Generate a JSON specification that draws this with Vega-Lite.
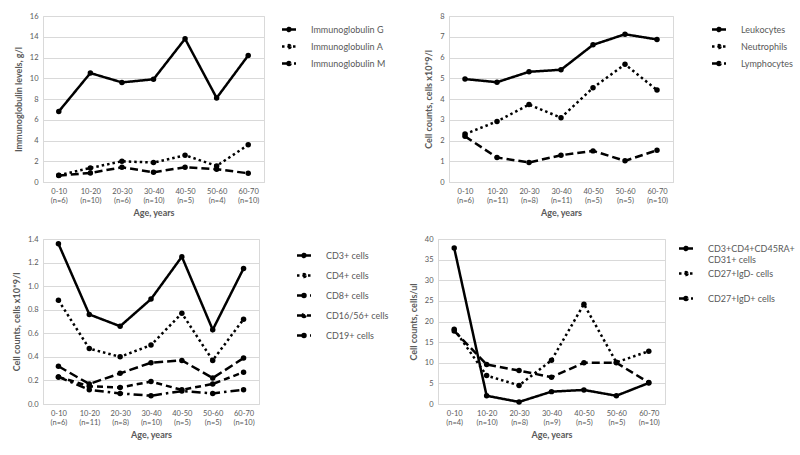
{
  "$schema": "https://vega.github.io/schema/vega-lite/v6.json",
  "background": "white",
  "padding": {"left": 12, "top": 11, "right": 0, "bottom": 0},
  "resolve": {"scale": {"strokeDash": "independent", "x": "independent", "y": "independent"}, "legend": {"strokeDash": "independent"}},
  "config": {
    "font": "Lato",
    "view": {"stroke": "#d9d9d9", "strokeWidth": 1},
    "axis": {
      "labelFont": "Lato", "labelFontSize": 7.5, "labelColor": "#595959",
      "titleFont": "Lato", "titleFontSize": 9, "titleFontWeight": "bold", "titleColor": "#595959",
      "gridColor": "#d9d9d9", "gridWidth": 1, "domainColor": "#d9d9d9", "ticks": false
    },
    "axisX": {"bandPosition": 0, "labelAngle": 0, "labelPadding": 5, "titlePadding": 4, "domain": true},
    "axisY": {"domain": false, "labelPadding": 5, "titlePadding": 6},
    "legend": {
      "labelFont": "Lato", "labelFontSize": 9, "labelColor": "#595959",
      "symbolType": "M-0.5,0L2.3,0M1.2,0A0.3,0.3 0 1,1 0.6,0A0.3,0.3 0 1,1 1.2,0Z",
      "symbolSize": 100, "symbolStrokeWidth": 2.5, "symbolStrokeColor": "black", "symbolFillColor": "black", "symbolOpacity": 1,
      "labelOffset": 20, "rowPadding": 4, "offset": 4, "padding": 10
    },
    "line": {"color": "black", "strokeWidth": 2.5},
    "point": {"color": "black", "filled": true, "size": 30, "opacity": 1}
  },
  "spacing": 16,
  "vconcat": [
    {
      "spacing": 30,
      "resolve": {"scale": {"strokeDash": "independent", "x": "independent", "y": "independent"}, "legend": {"strokeDash": "independent"}},
      "hconcat": [
        {
          "width": 221, "height": 166,
          "data": {"values": [
            {"age": "0-10 (n=6)", "series": "Immunoglobulin G", "value": 6.8},
            {"age": "10-20 (n=10)", "series": "Immunoglobulin G", "value": 10.5},
            {"age": "20-30 (n=6)", "series": "Immunoglobulin G", "value": 9.6},
            {"age": "30-40 (n=10)", "series": "Immunoglobulin G", "value": 9.9},
            {"age": "40-50 (n=5)", "series": "Immunoglobulin G", "value": 13.8},
            {"age": "50-60 (n=4)", "series": "Immunoglobulin G", "value": 8.1},
            {"age": "60-70 (n=10)", "series": "Immunoglobulin G", "value": 12.2},
            {"age": "0-10 (n=6)", "series": "Immunoglobulin A", "value": 0.65},
            {"age": "10-20 (n=10)", "series": "Immunoglobulin A", "value": 1.35},
            {"age": "20-30 (n=6)", "series": "Immunoglobulin A", "value": 2.0},
            {"age": "30-40 (n=10)", "series": "Immunoglobulin A", "value": 1.87},
            {"age": "40-50 (n=5)", "series": "Immunoglobulin A", "value": 2.58},
            {"age": "50-60 (n=4)", "series": "Immunoglobulin A", "value": 1.55},
            {"age": "60-70 (n=10)", "series": "Immunoglobulin A", "value": 3.58},
            {"age": "0-10 (n=6)", "series": "Immunoglobulin M", "value": 0.62},
            {"age": "10-20 (n=10)", "series": "Immunoglobulin M", "value": 0.87},
            {"age": "20-30 (n=6)", "series": "Immunoglobulin M", "value": 1.42},
            {"age": "30-40 (n=10)", "series": "Immunoglobulin M", "value": 0.94},
            {"age": "40-50 (n=5)", "series": "Immunoglobulin M", "value": 1.42},
            {"age": "50-60 (n=4)", "series": "Immunoglobulin M", "value": 1.23},
            {"age": "60-70 (n=10)", "series": "Immunoglobulin M", "value": 0.84}
          ]},
          "encoding": {
            "x": {"field": "age", "type": "nominal", "sort": null, "scale": {"paddingInner": 0, "paddingOuter": 0},
                  "axis": {"title": "Age, years", "labelExpr": "split(datum.label, ' ')"}},
            "y": {"field": "value", "type": "quantitative", "scale": {"domain": [0, 16], "nice": false},
                  "axis": {"title": "Immunoglobulin levels, g/l", "values": [0, 2, 4, 6, 8, 10, 12, 14, 16]}}
          },
          "layer": [
            {"mark": {"type": "line"},
             "encoding": {"strokeDash": {"field": "series", "type": "nominal", "sort": null,
               "scale": {"domain": ["Immunoglobulin G", "Immunoglobulin A", "Immunoglobulin M"], "range": [[1, 0], [2.5, 3], [8, 4]]},
               "legend": {"title": null, "offset": 7, "padding": 7, "encode": {"symbols": {"update": {"stroke": {"value": "black"}, "strokeWidth": {"value": 2.5}, "fill": {"value": "black"}}}}}}}},
            {"mark": {"type": "point"}, "encoding": {"detail": {"field": "series"}}}
          ]
        },
        {
          "width": 224, "height": 166,
          "data": {"values": [
            {"age": "0-10 (n=6)", "series": "Leukocytes", "value": 4.96},
            {"age": "10-20 (n=11)", "series": "Leukocytes", "value": 4.81},
            {"age": "20-30 (n=8)", "series": "Leukocytes", "value": 5.31},
            {"age": "30-40 (n=11)", "series": "Leukocytes", "value": 5.41},
            {"age": "40-50 (n=5)", "series": "Leukocytes", "value": 6.61},
            {"age": "50-60 (n=5)", "series": "Leukocytes", "value": 7.12},
            {"age": "60-70 (n=10)", "series": "Leukocytes", "value": 6.87},
            {"age": "0-10 (n=6)", "series": "Neutrophils", "value": 2.31},
            {"age": "10-20 (n=11)", "series": "Neutrophils", "value": 2.92},
            {"age": "20-30 (n=8)", "series": "Neutrophils", "value": 3.73},
            {"age": "30-40 (n=11)", "series": "Neutrophils", "value": 3.1},
            {"age": "40-50 (n=5)", "series": "Neutrophils", "value": 4.54},
            {"age": "50-60 (n=5)", "series": "Neutrophils", "value": 5.67},
            {"age": "60-70 (n=10)", "series": "Neutrophils", "value": 4.43},
            {"age": "0-10 (n=6)", "series": "Lymphocytes", "value": 2.2},
            {"age": "10-20 (n=11)", "series": "Lymphocytes", "value": 1.18},
            {"age": "20-30 (n=8)", "series": "Lymphocytes", "value": 0.94},
            {"age": "30-40 (n=11)", "series": "Lymphocytes", "value": 1.29},
            {"age": "40-50 (n=5)", "series": "Lymphocytes", "value": 1.5},
            {"age": "50-60 (n=5)", "series": "Lymphocytes", "value": 1.02},
            {"age": "60-70 (n=10)", "series": "Lymphocytes", "value": 1.53}
          ]},
          "encoding": {
            "x": {"field": "age", "type": "nominal", "sort": null, "scale": {"paddingInner": 0, "paddingOuter": 0},
                  "axis": {"title": "Age, years", "labelExpr": "split(datum.label, ' ')"}},
            "y": {"field": "value", "type": "quantitative", "scale": {"domain": [0, 8], "nice": false},
                  "axis": {"title": "Cell counts, cells x10*9/l", "values": [0, 1, 2, 3, 4, 5, 6, 7, 8]}}
          },
          "layer": [
            {"mark": {"type": "line"},
             "encoding": {"strokeDash": {"field": "series", "type": "nominal", "sort": null,
               "scale": {"domain": ["Leukocytes", "Neutrophils", "Lymphocytes"], "range": [[1, 0], [2.5, 3], [8, 4]]},
               "legend": {"title": null, "offset": 28, "padding": 7, "encode": {"symbols": {"update": {"stroke": {"value": "black"}, "strokeWidth": {"value": 2.5}, "fill": {"value": "black"}}}}}}}},
            {"mark": {"type": "point"}, "encoding": {"detail": {"field": "series"}}}
          ]
        }
      ]
    },
    {
      "spacing": 8,
      "resolve": {"scale": {"strokeDash": "independent", "x": "independent", "y": "independent"}, "legend": {"strokeDash": "independent"}},
      "hconcat": [
        {
          "width": 216, "height": 165,
          "data": {"values": [
            {"age": "0-10 (n=6)", "series": "CD3+ cells", "value": 1.36},
            {"age": "10-20 (n=11)", "series": "CD3+ cells", "value": 0.76},
            {"age": "20-30 (n=8)", "series": "CD3+ cells", "value": 0.66},
            {"age": "30-40 (n=10)", "series": "CD3+ cells", "value": 0.89},
            {"age": "40-50 (n=5)", "series": "CD3+ cells", "value": 1.25},
            {"age": "50-60 (n=5)", "series": "CD3+ cells", "value": 0.63},
            {"age": "60-70 (n=10)", "series": "CD3+ cells", "value": 1.15},
            {"age": "0-10 (n=6)", "series": "CD4+ cells", "value": 0.88},
            {"age": "10-20 (n=11)", "series": "CD4+ cells", "value": 0.47},
            {"age": "20-30 (n=8)", "series": "CD4+ cells", "value": 0.4},
            {"age": "30-40 (n=10)", "series": "CD4+ cells", "value": 0.5},
            {"age": "40-50 (n=5)", "series": "CD4+ cells", "value": 0.77},
            {"age": "50-60 (n=5)", "series": "CD4+ cells", "value": 0.37},
            {"age": "60-70 (n=10)", "series": "CD4+ cells", "value": 0.72},
            {"age": "0-10 (n=6)", "series": "CD8+ cells", "value": 0.32},
            {"age": "10-20 (n=11)", "series": "CD8+ cells", "value": 0.17},
            {"age": "20-30 (n=8)", "series": "CD8+ cells", "value": 0.26},
            {"age": "30-40 (n=10)", "series": "CD8+ cells", "value": 0.35},
            {"age": "40-50 (n=5)", "series": "CD8+ cells", "value": 0.37},
            {"age": "50-60 (n=5)", "series": "CD8+ cells", "value": 0.22},
            {"age": "60-70 (n=10)", "series": "CD8+ cells", "value": 0.39},
            {"age": "0-10 (n=6)", "series": "CD16/56+ cells", "value": 0.23},
            {"age": "10-20 (n=11)", "series": "CD16/56+ cells", "value": 0.15},
            {"age": "20-30 (n=8)", "series": "CD16/56+ cells", "value": 0.14},
            {"age": "30-40 (n=10)", "series": "CD16/56+ cells", "value": 0.19},
            {"age": "40-50 (n=5)", "series": "CD16/56+ cells", "value": 0.12},
            {"age": "50-60 (n=5)", "series": "CD16/56+ cells", "value": 0.17},
            {"age": "60-70 (n=10)", "series": "CD16/56+ cells", "value": 0.27},
            {"age": "0-10 (n=6)", "series": "CD19+ cells", "value": 0.23},
            {"age": "10-20 (n=11)", "series": "CD19+ cells", "value": 0.12},
            {"age": "20-30 (n=8)", "series": "CD19+ cells", "value": 0.09},
            {"age": "30-40 (n=10)", "series": "CD19+ cells", "value": 0.07},
            {"age": "40-50 (n=5)", "series": "CD19+ cells", "value": 0.11},
            {"age": "50-60 (n=5)", "series": "CD19+ cells", "value": 0.09},
            {"age": "60-70 (n=10)", "series": "CD19+ cells", "value": 0.12}
          ]},
          "encoding": {
            "x": {"field": "age", "type": "nominal", "sort": null, "scale": {"paddingInner": 0, "paddingOuter": 0},
                  "axis": {"title": "Age, years", "labelExpr": "split(datum.label, ' ')"}},
            "y": {"field": "value", "type": "quantitative", "scale": {"domain": [0, 1.4], "nice": false},
                  "axis": {"title": "Cell counts, cells x10*9/l", "values": [0, 0.2, 0.4, 0.6, 0.8, 1.0, 1.2, 1.4], "format": ".1f"}}
          },
          "layer": [
            {"mark": {"type": "line"},
             "encoding": {"strokeDash": {"field": "series", "type": "nominal", "sort": null,
               "scale": {"domain": ["CD3+ cells", "CD4+ cells", "CD8+ cells", "CD16/56+ cells", "CD19+ cells"], "range": [[1, 0], [2.5, 3], [9, 4], [6, 4], [9, 4, 2.5, 4]]},
               "legend": {"title": null, "offset": 24, "rowPadding": 7, "encode": {"symbols": {"update": {"stroke": {"value": "black"}, "strokeWidth": {"value": 2.5}, "fill": {"value": "black"}}}}}}}},
            {"mark": {"type": "point"}, "encoding": {"detail": {"field": "series"}}}
          ]
        },
        {
          "width": 227, "height": 165,
          "data": {"values": [
            {"age": "0-10 (n=4)", "series": "CD3+CD4+CD45RA+ CD31+ cells", "value": 37.8},
            {"age": "10-20 (n=10)", "series": "CD3+CD4+CD45RA+ CD31+ cells", "value": 2.0},
            {"age": "20-30 (n=8)", "series": "CD3+CD4+CD45RA+ CD31+ cells", "value": 0.5},
            {"age": "30-40 (n=9)", "series": "CD3+CD4+CD45RA+ CD31+ cells", "value": 3.0},
            {"age": "40-50 (n=5)", "series": "CD3+CD4+CD45RA+ CD31+ cells", "value": 3.4},
            {"age": "50-60 (n=5)", "series": "CD3+CD4+CD45RA+ CD31+ cells", "value": 2.0},
            {"age": "60-70 (n=10)", "series": "CD3+CD4+CD45RA+ CD31+ cells", "value": 5.1},
            {"age": "0-10 (n=4)", "series": "CD27+IgD- cells", "value": 18.1},
            {"age": "10-20 (n=10)", "series": "CD27+IgD- cells", "value": 6.9},
            {"age": "20-30 (n=8)", "series": "CD27+IgD- cells", "value": 4.5},
            {"age": "30-40 (n=9)", "series": "CD27+IgD- cells", "value": 10.6},
            {"age": "40-50 (n=5)", "series": "CD27+IgD- cells", "value": 24.2},
            {"age": "50-60 (n=5)", "series": "CD27+IgD- cells", "value": 10.1},
            {"age": "60-70 (n=10)", "series": "CD27+IgD- cells", "value": 12.8},
            {"age": "0-10 (n=4)", "series": "CD27+IgD+ cells", "value": 17.7},
            {"age": "10-20 (n=10)", "series": "CD27+IgD+ cells", "value": 9.6},
            {"age": "20-30 (n=8)", "series": "CD27+IgD+ cells", "value": 8.1},
            {"age": "30-40 (n=9)", "series": "CD27+IgD+ cells", "value": 6.5},
            {"age": "40-50 (n=5)", "series": "CD27+IgD+ cells", "value": 10.0},
            {"age": "50-60 (n=5)", "series": "CD27+IgD+ cells", "value": 10.0},
            {"age": "60-70 (n=10)", "series": "CD27+IgD+ cells", "value": 5.2}
          ]},
          "encoding": {
            "x": {"field": "age", "type": "nominal", "sort": null, "scale": {"paddingInner": 0, "paddingOuter": 0},
                  "axis": {"title": "Age, years", "labelExpr": "split(datum.label, ' ')"}},
            "y": {"field": "value", "type": "quantitative", "scale": {"domain": [0, 40], "nice": false},
                  "axis": {"title": "Cell counts, cells/ul", "values": [0, 5, 10, 15, 20, 25, 30, 35, 40]}}
          },
          "layer": [
            {"mark": {"type": "line"},
             "encoding": {"strokeDash": {"field": "series", "type": "nominal", "sort": null,
               "scale": {"domain": ["CD3+CD4+CD45RA+ CD31+ cells", "CD27+IgD- cells", "CD27+IgD+ cells"], "range": [[1, 0], [2.5, 3], [8, 4]]},
               "legend": {"title": null, "offset": 7, "padding": 3, "rowPadding": 2,
                 "labelExpr": "datum.label == 'CD3+CD4+CD45RA+ CD31+ cells' ? ['CD3+CD4+CD45RA+', 'CD31+ cells'] : [datum.label, ' ']",
                 "encode": {"symbols": {"update": {"stroke": {"value": "black"}, "strokeWidth": {"value": 2.5}, "fill": {"value": "black"}}}}}}}},
            {"mark": {"type": "point"}, "encoding": {"detail": {"field": "series"}}}
          ]
        }
      ]
    }
  ]
}
